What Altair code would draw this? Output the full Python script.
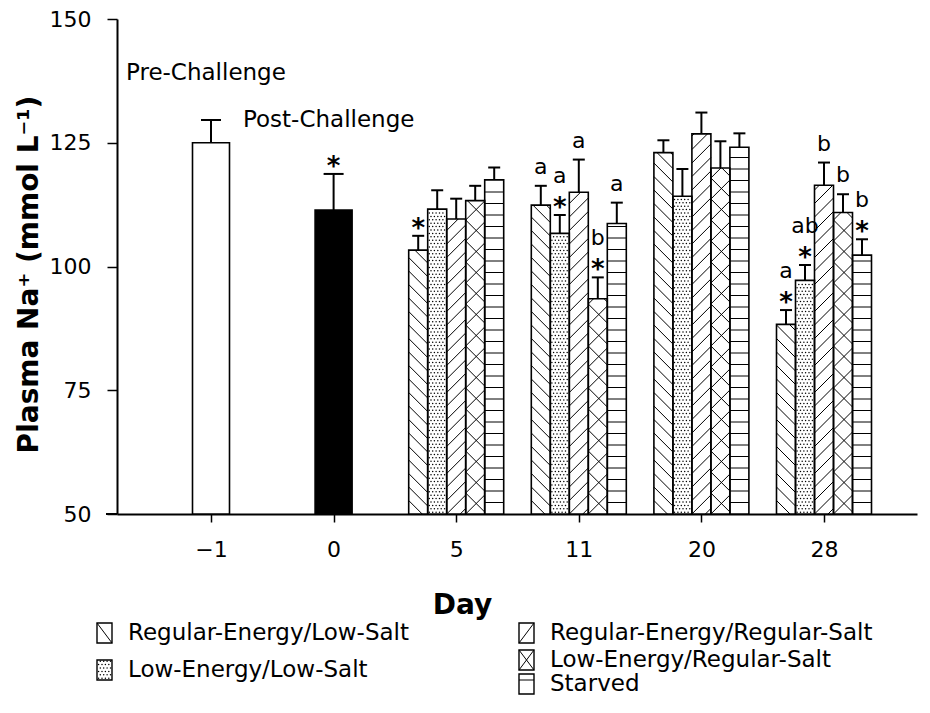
import altair as alt
import pandas as pd
import numpy as np

# ---------------- data ----------------
days = ["−1", "0", "5", "11", "20", "28"]
diets = ["Regular-Energy/Low-Salt", "Low-Energy/Low-Salt",
         "Regular-Energy/Regular-Salt", "Low-Energy/Regular-Salt", "Starved"]
single_labels = ["Pre-Challenge", "Post-Challenge"]
single_mean = [125.0, 111.4]
single_upper = [129.6, 118.7]

diet_days = ["5", "11", "20", "28"]
rels_mean = [103.3, 112.4, 123.0, 88.3]
rels_upper = [106.2, 116.3, 125.5, 91.2]
lels_mean = [111.6, 106.7, 114.2, 97.2]
lels_upper = [115.4, 110.4, 119.7, 100.3]
rers_mean = [109.6, 115.0, 126.8, 116.4]
rers_upper = [113.7, 121.6, 131.1, 121.0]
lers_mean = [113.3, 93.5, 119.9, 110.9]
lers_upper = [116.3, 97.8, 125.3, 114.6]
starved_mean = [117.5, 108.7, 124.1, 102.3]
starved_upper = [120.0, 112.9, 126.9, 105.5]

ann_day = ["0", "5", "11", "11", "11", "11", "11", "28", "28", "28", "28", "28"]
ann_diet = ["", diets[0], diets[0], diets[1], diets[2], diets[3], diets[4],
            diets[0], diets[1], diets[2], diets[3], diets[4]]
ann_text = [["*"], ["*"], ["a"], ["*", "a"], ["a"], ["*", "b"], ["a"],
            ["*", "a"], ["*", "ab"], ["b"], ["b"], ["*", "b"]]

mean_by_diet = [rels_mean, lels_mean, rers_mean, lers_mean, starved_mean]
upper_by_diet = [rels_upper, lels_upper, rers_upper, lers_upper, starved_upper]
patterns = ["back", "dots", "fwd", "cross", "horiz"]

# ---------------- layout ----------------
W, H = 800, 495
PX = 122.6
XMIN = -94 / PX
XMAX = XMIN + W / PX
YMIN, YMAX = 50, 150
KY = H / (YMAX - YMIN)
SINGLE_W = 37 / PX
BAR_W = 19 / PX
FONT = "DejaVu Sans"


def px_x(p):
    return XMIN + p / PX


def px_y(p):
    return YMAX - p / KY


bars = []
for i, (m, u) in enumerate(zip(single_mean, single_upper)):
    bars.append(dict(day=days[i], diet="", c=float(i), x0=i - SINGLE_W / 2, x1=i + SINGLE_W / 2,
                     m=m, u=u, fill="white" if i == 0 else "black", pat="none", cap=10 / PX))
for di, dd in enumerate(diet_days):
    idx = days.index(dd)
    for k, dname in enumerate(diets):
        c = idx + (k - 2) * BAR_W
        bars.append(dict(day=dd, diet=dname, c=c, x0=c - BAR_W / 2, x1=c + BAR_W / 2,
                         m=mean_by_diet[k][di], u=upper_by_diet[k][di], fill="white",
                         pat=patterns[k], cap=6 / PX))
bars_df = pd.DataFrame(bars)


def hatch(x0, x1, ybot, ytop, pat):
    """segments in data units for a pattern inside a rectangle"""
    w = (x1 - x0) * PX
    h = (ytop - ybot) * KY
    segs = []

    def add(ax, ay, bx, by):
        segs.append(dict(hx=x0 + ax / PX, hx2=x0 + bx / PX,
                         hy=ybot + ay / KY, hy2=ybot + by / KY))

    def fwd(S):
        k0 = int(np.floor(-w / S))
        k1 = int(np.ceil(h / S))
        for k in range(k0, k1 + 1):
            c = k * S
            xa, xb = max(0, -c), min(w, h - c)
            if xb - xa > 0.5:
                add(xa, xa + c, xb, xb + c)

    def back(S):
        k1 = int(np.ceil((h + w) / S))
        for k in range(1, k1 + 1):
            c = k * S
            xa, xb = max(0, c - h), min(w, c)
            if xb - xa > 0.5:
                add(xa, c - xa, xb, c - xb)

    if pat == "fwd":
        fwd(13.5)
    elif pat == "back":
        back(13.5)
    elif pat == "cross":
        fwd(21)
        back(21)
    elif pat == "horiz":
        y = 11.5
        while y < h - 2:
            add(0, y, w, y)
            y += 11.5
    return segs


def dots(x0, x1, ybot, ytop, step=3.4):
    w = (x1 - x0) * PX
    h = (ytop - ybot) * KY
    pts = []
    r = 0
    y = 1.8
    while y < h - 1:
        x = 1.6 + (r % 2) * step / 2
        while x < w - 1:
            pts.append(dict(px=x0 + x / PX, py=ybot + y / KY))
            x += step
        y += step
        r += 1
    return pts


hatch_rows, dot_rows = [], []
for b in bars:
    if b["pat"] == "dots":
        dot_rows += dots(b["x0"], b["x1"], YMIN, b["m"])
    elif b["pat"] != "none":
        hatch_rows += hatch(b["x0"], b["x1"], YMIN, b["m"], b["pat"])

# annotations
star_rows, letter_rows = [], []
for dday, ddiet, labs in zip(ann_day, ann_diet, ann_text):
    b = next(bb for bb in bars if bb["day"] == dday and bb["diet"] == ddiet)
    for j, lab in enumerate(labs):
        if j == 0:
            off = 15 if lab == "*" else 19
        else:
            off = 39
        row = dict(x=b["c"], y=b["u"] + off / KY, t=lab)
        (star_rows if lab == "*" else letter_rows).append(row)

# legend (positions in px relative to plot origin, converted to data units)
leg_pos = [(-20, 614), (-20, 651), (402, 614), (402, 641), (402, 665)]
SW, SH = 15, 20
leg_box, leg_hatch, leg_dots, leg_text = [], [], [], []
for (lx, ly), dname, pat in zip(leg_pos, diets, patterns):
    x0, x1 = px_x(lx), px_x(lx + SW)
    yt, yb = px_y(ly - SH / 2), px_y(ly + SH / 2)
    leg_box.append(dict(x0=x0, x1=x1, y0=yb, y1=yt))
    leg_text.append(dict(x=px_x(lx + 31), y=px_y(ly), t=dname))
    if pat == "back":
        leg_hatch.append(dict(hx=x0, hy=yt, hx2=x1, hy2=yb))
    elif pat == "fwd":
        leg_hatch.append(dict(hx=x0, hy=yb, hx2=x1, hy2=yt))
    elif pat == "cross":
        leg_hatch.append(dict(hx=x0, hy=yt, hx2=x1, hy2=yb))
        leg_hatch.append(dict(hx=x0, hy=yb, hx2=x1, hy2=yt))
    elif pat == "horiz":
        leg_hatch.append(dict(hx=x0, hy=px_y(ly - 4), hx2=x1, hy2=px_y(ly - 4)))
    elif pat == "dots":
        leg_dots += dots(x0, x1, yb, yt, step=3.4)

notes = pd.DataFrame([
    dict(x=px_x(9), y=px_y(54), t=single_labels[0]),
    dict(x=px_x(126), y=px_y(101), t=single_labels[1]),
])

# ---------------- chart ----------------
xs = alt.Scale(domain=[XMIN, XMAX], nice=False, zero=False)
ys = alt.Scale(domain=[YMIN, YMAX], nice=False, zero=False)
label_expr = "[" + ",".join("'%s'" % d for d in days) + "][datum.value]"

x_axis = alt.Axis(values=list(range(len(days))), labelExpr=label_expr, tickSize=8,
                  labelPadding=17, labelFontSize=22, labelFont=FONT, labelColor="black",
                  title="Day", titleFont=FONT, titleFontSize=28, titleFontWeight="bold",
                  titleX=345, titleY=91, titleAlign="center", titleBaseline="middle",
                  domainWidth=2, tickWidth=1.5, domainColor="black", tickColor="black",
                  grid=False, titleColor="black")
y_axis = alt.Axis(values=[50, 75, 100, 125, 150], tickSize=10, labelPadding=16,
                  labelFontSize=22, labelFont=FONT, labelColor="black",
                  title="Plasma Na⁺ (mmol L⁻¹)", titleFont=FONT, titleFontSize=28,
                  titleFontWeight="bold", titleAngle=270, titleX=-88, titleY=255,
                  titleAlign="center", titleBaseline="middle", titleColor="black",
                  domainWidth=2, tickWidth=1.5, domainColor="black", tickColor="black",
                  grid=False)

base_bars = alt.Chart(bars_df)
bar_fill = base_bars.mark_rect(stroke=None).encode(
    x=alt.X("x0:Q", scale=xs, axis=x_axis),
    x2="x1:Q",
    y=alt.Y("m:Q", scale=ys, axis=y_axis),
    y2=alt.datum(YMIN),
    fill=alt.Fill("fill:N", scale=None),
)
hatch_layer = alt.Chart(pd.DataFrame(hatch_rows)).mark_rule(color="black", strokeWidth=1).encode(
    x=alt.X("hx:Q", scale=xs), x2="hx2:Q", y=alt.Y("hy:Q", scale=ys), y2="hy2:Q")
dot_layer = alt.Chart(pd.DataFrame(dot_rows)).mark_point(
    filled=True, color="black", size=2.2, opacity=1, shape="circle").encode(
    x=alt.X("px:Q", scale=xs), y=alt.Y("py:Q", scale=ys))
bar_outline = base_bars.mark_rect(fillOpacity=0, stroke="black", strokeWidth=1.6).encode(
    x=alt.X("x0:Q", scale=xs), x2="x1:Q", y=alt.Y("m:Q", scale=ys), y2=alt.datum(YMIN))
err_line = base_bars.mark_rule(color="black", strokeWidth=2).encode(
    x=alt.X("c:Q", scale=xs), y=alt.Y("m:Q", scale=ys), y2="u:Q")
err_cap = base_bars.transform_calculate(
    ca="datum.c - datum.cap", cb="datum.c + datum.cap").mark_rule(
    color="black", strokeWidth=2).encode(
    x=alt.X("ca:Q", scale=xs), x2="cb:Q", y=alt.Y("u:Q", scale=ys))
stars = alt.Chart(pd.DataFrame(star_rows)).mark_text(
    font=FONT, fontSize=26, fontWeight="bold", color="black", baseline="middle",
    align="center", dy=8).encode(
    x=alt.X("x:Q", scale=xs), y=alt.Y("y:Q", scale=ys), text="t:N")
letters = alt.Chart(pd.DataFrame(letter_rows)).mark_text(
    font=FONT, fontSize=22, color="black", baseline="middle", align="center").encode(
    x=alt.X("x:Q", scale=xs), y=alt.Y("y:Q", scale=ys), text="t:N")
note_layer = alt.Chart(notes).mark_text(
    font=FONT, fontSize=23, color="black", baseline="middle", align="left").encode(
    x=alt.X("x:Q", scale=xs), y=alt.Y("y:Q", scale=ys), text="t:N")

leg_box_layer = alt.Chart(pd.DataFrame(leg_box)).mark_rect(
    fill="white", stroke="black", strokeWidth=1.4).encode(
    x=alt.X("x0:Q", scale=xs), x2="x1:Q", y=alt.Y("y0:Q", scale=ys), y2="y1:Q")
leg_hatch_layer = alt.Chart(pd.DataFrame(leg_hatch)).mark_rule(color="black", strokeWidth=1).encode(
    x=alt.X("hx:Q", scale=xs), x2="hx2:Q", y=alt.Y("hy:Q", scale=ys), y2="hy2:Q")
leg_dot_layer = alt.Chart(pd.DataFrame(leg_dots)).mark_point(
    filled=True, color="black", size=2.2, opacity=1, shape="circle").encode(
    x=alt.X("px:Q", scale=xs), y=alt.Y("py:Q", scale=ys))
leg_text_layer = alt.Chart(pd.DataFrame(leg_text)).mark_text(
    font=FONT, fontSize=23, color="black", baseline="middle", align="left").encode(
    x=alt.X("x:Q", scale=xs), y=alt.Y("y:Q", scale=ys), text="t:N")
axis_ext = alt.Chart(pd.DataFrame({"a": [0]})).mark_rule(color="black", strokeWidth=2).encode(
    x=alt.value(-11), x2=alt.value(0), y=alt.value(H))

chart = alt.layer(
    bar_fill, hatch_layer, dot_layer, bar_outline, err_line, err_cap,
    stars, letters, note_layer,
    leg_box_layer, leg_hatch_layer, leg_dot_layer, leg_text_layer, axis_ext,
).properties(
    width=W, height=H,
    autosize=alt.AutoSizeParams(type="none"),
    padding={"left": 109, "top": 11, "right": 4, "bottom": 186},
    background="white",
).configure_view(stroke=None)

chart.save("out.html", embed_options={"renderer": "svg", "actions": False})
